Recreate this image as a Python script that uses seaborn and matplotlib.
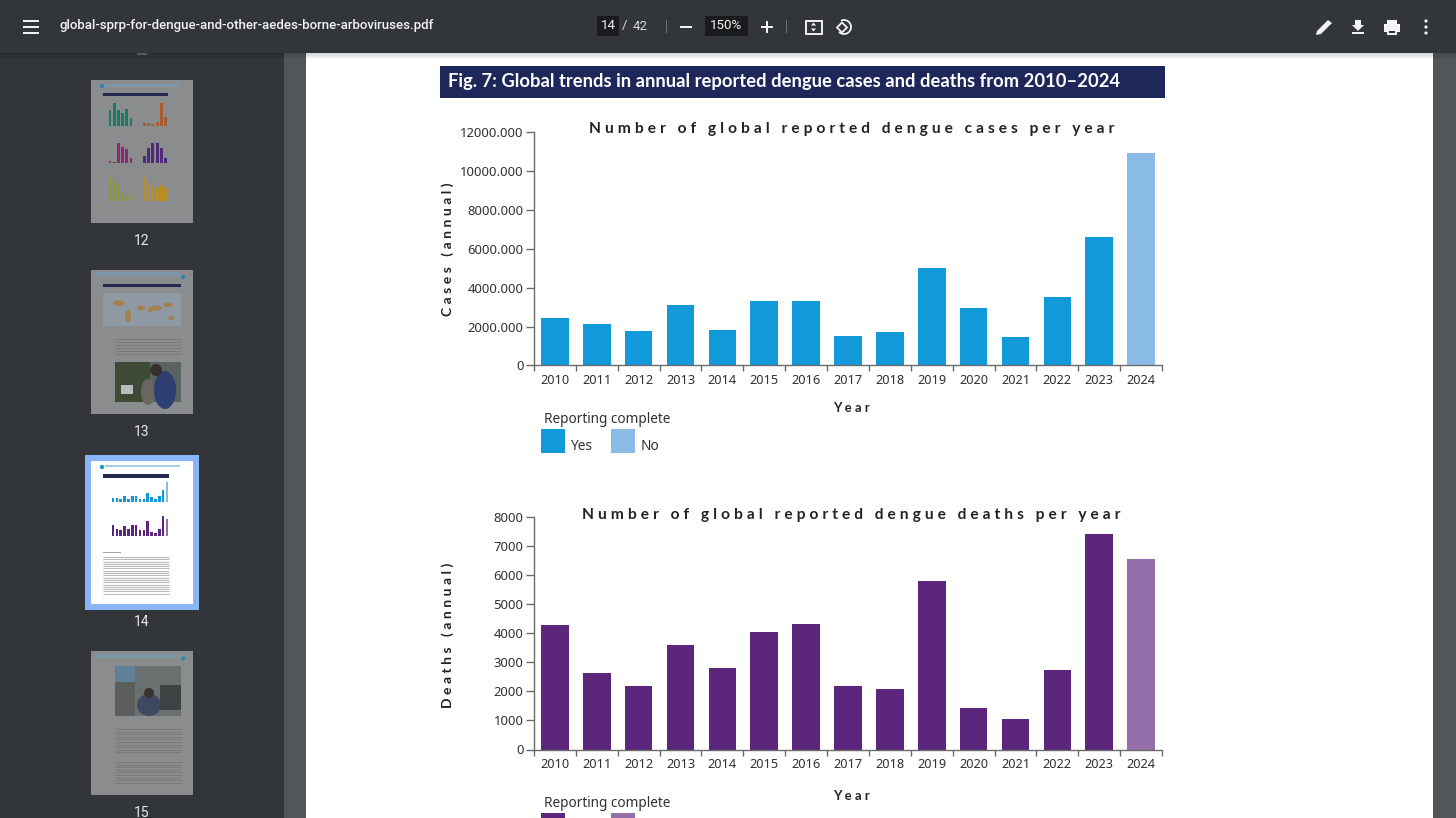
import numpy as np
import pandas as pd
import seaborn as sns
import matplotlib.pyplot as plt
from matplotlib.patches import Rectangle, Ellipse, Polygon, Circle

# -------------------------------
# Data
# -------------------------------
years = [2010, 2011, 2012, 2013, 2014, 2015, 2016, 2017, 2018, 2019, 2020, 2021, 2022, 2023, 2024]
cases = [2440, 2130, 1750, 3110, 1800, 3315, 3340, 1520, 1720, 5010, 2930, 1490, 3520, 6580, 10920]
deaths = [4285, 2630, 2185, 3595, 2805, 4045, 4335, 2185, 2080, 5815, 1430, 1065, 2735, 7415, 6555]
complete = ["Yes"] * 14 + ["No"]
case_ticks = [0, 2000, 4000, 6000, 8000, 10000, 12000]
case_tick_labels = ["0", "2000.000", "4000.000", "6000.000", "8000.000", "10000.000", "12000.000"]
death_ticks = [0, 1000, 2000, 3000, 4000, 5000, 6000, 7000, 8000]

# thumbnail of page 12, six small charts
thumb_values = [
    [62, 88, 62, 50, 66, 30],
    [12, 12, 10, 16, 100, 42],
    [8, 4, 100, 80, 72, 24],
    [38, 78, 100, 100, 76, 24],
    [100, 88, 74, 36, 20, 30],
    [100, 76, 62, 56, 70, 56],
]
thumb_colors = ["#1d7a62", "#a85c30", "#8a2a72", "#4e2a78", "#8a9a2e", "#b98f22"]
thumb_boxes = [
    (108, 103, 133, 126), (142, 103, 168, 126),
    (108, 143, 133, 163), (142, 143, 168, 163),
    (108, 177, 133, 201), (142, 177, 168, 201),
]

W, H = 1456, 818
INK = "#2f3034"
AXIS = "#6b6b6b"
TOOLBAR = "#323639"
GUTTER = "#525659"
THUMB = "#8b8c8e"

sns.set_theme(style="white")
plt.rcParams["font.family"] = ["Noto Sans", "DejaVu Sans"]
plt.rcParams["patch.force_edgecolor"] = False
plt.rcParams["patch.edgecolor"] = "none"

fig = plt.figure(figsize=(W / 100, H / 100), dpi=100)

# pixel canvas behind the charts, for the viewer around the page
bg = fig.add_axes([0, 0, 1, 1], zorder=0)
bg.set_xlim(0, W)
bg.set_ylim(H, 0)
bg.axis("off")


def rect(x0, y0, x1, y1, color, z=1, **kw):
    bg.add_patch(Rectangle((x0, y0), x1 - x0, y1 - y0, facecolor=color, edgecolor="none", zorder=z, **kw))


def ptext(x, y, s, size, color=INK, ha="center", weight="normal", family=None, rotation=0):
    fam = family if family else ["Noto Sans", "DejaVu Sans"]
    bg.text(x, y, s, fontsize=size, color=color, ha=ha, va="center", weight=weight,
            family=fam, rotation=rotation, zorder=6)


def spaced(s):
    # letter spacing of the chart titles
    return "\u2009\u2009".join(s)


def text_lines(x0, x1, y0, y1, step, color="#6c6d70", alpha=0.55):
    for y in np.arange(y0, y1, step):
        bg.plot([x0, x1], [y, y], color=color, lw=0.8, alpha=alpha, zorder=3, solid_capstyle="butt")


# viewer panels
rect(0, 0, W, H, GUTTER, z=0)
rect(0, 53, 284, H, TOOLBAR)
rect(306, 53, 1433, H, "white")
for i in range(6):
    rect(0, 53 + i, W, 54 + i, "#000000", z=1.5, alpha=0.16 - i * 0.025)
rect(0, 0, W, 53, TOOLBAR, z=2)

# toolbar, left part
for y in (21, 27, 33):
    rect(23, y - 1, 39, y + 1, "#f1f3f4", z=3)
ptext(60, 25.5, "global-sprp-for-dengue-and-other-aedes-borne-arboviruses.pdf", 9.5,
      color="#f1f3f4", ha="left", family="Roboto", weight="medium")

# toolbar, page and zoom fields
rect(597, 16, 619, 36, "#191b1c", z=3)
ptext(608, 25.5, "14", 9.6, color="#f1f3f4", family="Roboto")
ptext(625, 26, "/", 9.6, color="#d5d7d9", family="Roboto")
ptext(640, 26, "42", 9.6, color="#d5d7d9", family="Roboto")
rect(666, 20, 667, 33, "#6d7174", z=3)
rect(680, 26, 692, 28, "#f1f3f4", z=3)
rect(705, 16, 748, 36, "#191b1c", z=3)
ptext(726.5, 25.5, "150%", 9.6, color="#f1f3f4", family="Roboto")
rect(761, 26, 773, 28, "#f1f3f4", z=3)
rect(766, 21, 768, 33, "#f1f3f4", z=3)
rect(786, 20, 787, 33, "#6d7174", z=3)

# fit-to-page and rotate icons
bg.add_patch(Rectangle((805.5, 20.5), 16, 13, fill=False, edgecolor="#f1f3f4", lw=1.4, zorder=3))
bg.add_patch(Polygon([(813.5, 22.5), (811, 25.5), (816, 25.5)], facecolor="#f1f3f4", zorder=3))
bg.add_patch(Polygon([(813.5, 31.5), (811, 28.5), (816, 28.5)], facecolor="#f1f3f4", zorder=3))
bg.add_patch(Polygon([(842, 22.5), (847, 27.5), (842, 32.5), (837, 27.5)], fill=False,
                     edgecolor="#f1f3f4", lw=1.3, zorder=3))
theta = np.radians(np.linspace(-110, 130, 30))
bg.plot(844 + 7 * np.cos(theta), 27 + 7 * np.sin(theta), color="#f1f3f4", lw=1.3, zorder=3)

# edit, download, print and menu icons
bg.add_patch(Polygon([(1316, 35), (1317, 31), (1328, 20), (1332, 23), (1321, 34)], facecolor="#f1f3f4", zorder=3))
rect(1352, 32, 1364, 34, "#f1f3f4", z=3)
rect(1355, 20, 1361, 25, "#f1f3f4", z=3)
bg.add_patch(Polygon([(1352, 25), (1364, 25), (1358, 31)], facecolor="#f1f3f4", zorder=3))
rect(1384, 24, 1400, 32, "#f1f3f4", z=3)
rect(1387, 20, 1397, 24, "#f1f3f4", z=3)
rect(1387, 30, 1397, 35, "#f1f3f4", z=3)
rect(1389, 31, 1395, 33, TOOLBAR, z=3.5)
for y in (21, 27, 33):
    bg.add_patch(Circle((1426, y), 1.6, facecolor="#f1f3f4", zorder=3))

# sidebar thumbnails
rect(137, 53, 147, 55, "#9a9c9e", z=1.2, alpha=0.5)
rect(91, 80, 193, 223, THUMB, z=2)
rect(91, 270, 193, 414, THUMB, z=2)
rect(85, 455, 199, 610, "#8ab4f8", z=2)
rect(91, 461, 193, 604, "white", z=2.2)
rect(91, 651, 193, 795, THUMB, z=2)
for label, y in (("12", 241), ("13", 431.5), ("14", 622), ("15", 813)):
    ptext(142, y, label, 10, color="#e8eaed", family="Roboto")

# page 12 header
rect(103, 93, 168, 96, "#25284f", z=3)
rect(105, 84, 180, 87, "#7d97a8", z=3)
bg.add_patch(Circle((102, 86), 2.2, facecolor="#2a8ab0", zorder=3))

# page 13 content
rect(103, 284, 181, 287, "#25284f", z=3)
rect(103, 293, 181, 326, "#8e99a3", z=3)
for cx, cy, ex, ey in [(119, 303, 12, 6), (128, 316, 6, 12), (141, 308, 8, 5), (156, 308, 12, 5),
                       (168, 305, 10, 4), (171, 318, 6, 4), (150, 310, 5, 5)]:
    bg.add_patch(Ellipse((cx, cy), ex, ey, facecolor="#a4814c", zorder=3.2))
text_lines(115, 181, 339, 357, 3)
rect(115, 362, 181, 402, "#3c4a36", z=3)
rect(150, 362, 181, 402, "#59635f", z=3.1)
bg.add_patch(Ellipse((165, 390), 22, 38, facecolor="#2f3f72", zorder=3.3))
bg.add_patch(Ellipse((148, 392), 14, 26, facecolor="#6a6660", zorder=3.2))
bg.add_patch(Circle((156, 370), 6, facecolor="#38302c", zorder=3.4))
rect(121, 385, 133, 394, "#b8bcc0", z=3.4)
rect(95, 272, 180, 276, "#7d97a8", z=3)
bg.add_patch(Circle((183, 277), 2.2, facecolor="#2a8ab0", zorder=3))

# page 14 content
rect(103, 474, 169, 478, "#25284f", z=3)
rect(105, 465, 180, 467, "#a8cde2", z=3)
bg.add_patch(Circle((102, 467), 2.2, facecolor="#1a9bd7", zorder=3))
text_lines(103, 169, 557, 594, 2.3, color="#8a8c90", alpha=0.6)
rect(103, 552, 121, 553, "#a2a4a8", z=3)

# page 15 content
rect(115, 666, 181, 716, "#6a6f70", z=3)
rect(115, 666, 135, 682, "#5f8096", z=3.1)
rect(115, 682, 135, 716, "#5c5e5c", z=3.1)
rect(160, 685, 181, 710, "#3d4242", z=3.1)
bg.add_patch(Ellipse((149, 705), 24, 22, facecolor="#3e4860", zorder=3.3))
bg.add_patch(Circle((149, 693), 5, facecolor="#3a322c", zorder=3.4))
text_lines(115, 181, 729, 754, 2.6)
text_lines(115, 181, 762, 783, 2.6)
rect(95, 654, 180, 658, "#7d97a8", z=3)
bg.add_patch(Circle((183, 658.5), 2.2, facecolor="#2a8ab0", zorder=3))


def px_axes(x0, y0, x1, y1, z=5):
    return fig.add_axes([x0 / W, 1 - y1 / H, (x1 - x0) / W, (y1 - y0) / H], zorder=z)


def mini_bars(box, values, palette, hue=None):
    mini = px_axes(*box)
    sns.barplot(x=list(range(len(values))), y=values, hue=hue if hue else None,
                palette=palette if hue else None, color=None if hue else palette,
                dodge=False, width=0.66, saturation=1, linewidth=0, legend=False, ax=mini)
    mini.set_xlim(-0.5, len(values) - 0.5)
    mini.set_ylim(0, max(values) * 1.02)
    mini.axis("off")
    mini.patch.set_alpha(0)


for box, values, color in zip(thumb_boxes, thumb_values, thumb_colors):
    mini_bars(box, values, color)
mini_bars((111, 482, 169, 502), cases, {"Yes": "#1199d9", "No": "#8abae6"}, complete)
mini_bars((111, 516, 169, 536), deaths, {"Yes": "#5b267c", "No": "#9470aa"}, complete)

# -------------------------------
# Figure banner
# -------------------------------
rect(440, 66, 1165, 98, "#1e2759", z=3)
ptext(448, 82, "Fig. 7: Global trends in annual reported dengue cases and deaths from 2010\u20132024", 13.2,
      color="white", ha="left", weight="bold", family="Lato")


# -------------------------------
# Charts
# -------------------------------
def draw_chart(box, values, column, palette, ticks, tick_labels, ymax, legend_y, show_labels=True):
    ax = px_axes(*box, z=5)
    df = pd.DataFrame({"Year": years, column: values, "Reporting complete": complete})
    sns.barplot(data=df, x="Year", y=column, hue="Reporting complete", palette=palette,
                hue_order=["Yes", "No"], dodge=False, width=0.66, saturation=1, linewidth=0, ax=ax)
    ax.set_xlim(-0.5, 14.5)
    ax.set_ylim(0, ymax)
    ax.patch.set_alpha(0)
    ax.set_xlabel("")
    ax.set_ylabel("")

    # ticks sit between the bars, labels under the bars
    ax.set_xticks(np.arange(-0.5, 15, 1))
    ax.set_xticklabels([])
    ax.set_xticks(np.arange(15), minor=True)
    ax.set_xticklabels([str(y) for y in years], minor=True)
    ax.tick_params(axis="x", which="major", length=4.5, width=1, color=AXIS, bottom=True)
    ax.tick_params(axis="x", which="minor", length=0, labelsize=9.2, labelcolor=INK, pad=6)
    ax.set_yticks(ticks)
    ax.set_yticklabels(tick_labels)
    ax.tick_params(axis="y", length=6, width=1, color=AXIS, labelsize=9.4, labelcolor=INK, pad=1.5, left=True)

    sns.despine(ax=ax)
    for side in ("left", "bottom"):
        ax.spines[side].set_color(AXIS)
        ax.spines[side].set_linewidth(1)

    # reporting legend under the axis
    handles, labels = ax.get_legend_handles_labels()
    leg = ax.legend(handles, labels, title="Reporting complete", ncol=2, frameon=False,
                    loc="upper left", bbox_to_anchor=(537.5 / W, 1 - legend_y / H),
                    bbox_transform=fig.transFigure, fontsize=9.8, title_fontsize=9.8,
                    handlelength=1.76, handleheight=2.3, handletextpad=0.45, columnspacing=1.3,
                    borderpad=0.25, borderaxespad=0, labelspacing=0)
    leg._legend_box.align = "left"
    leg.get_title().set_color(INK)
    leg.get_title().set_position((3, 2))
    for t in leg.get_texts():
        t.set_color(INK)
        t.set_y(-5)
        # the lower legend's labels fall below the fold of the page view
        t.set_visible(show_labels)
    return ax


draw_chart((534, 132, 1162, 365.5), cases, "Cases", {"Yes": "#1199d9", "No": "#8abae6"},
           case_ticks, case_tick_labels, 12000, 411)
draw_chart((534, 517, 1162, 749.5), deaths, "Deaths", {"Yes": "#5b267c", "No": "#9470aa"},
           death_ticks, [str(t) for t in death_ticks], 8000, 795, show_labels=False)

# overlaid chart titles and axis names, on the pixel canvas
bg.set_zorder(0)
top = fig.add_axes([0, 0, 1, 1], zorder=8)
top.set_xlim(0, W)
top.set_ylim(H, 0)
top.axis("off")
for x, y, s, size, rot in [
    (852, 129, "Number of global reported dengue cases per year", 11.2, 0),
    (851.5, 515, "Number of global reported dengue deaths per year", 11.2, 0),
    (851.5, 408, "Year", 9.4, 0),
    (851.5, 796, "Year", 9.4, 0),
    (448, 249, "Cases (annual)", 10, 90),
    (448, 635, "Deaths (annual)", 10, 90),
]:
    top.text(x, y, spaced(s), fontsize=size, color="#222327", weight="bold", ha="center", va="center",
             rotation=rot, family=["Lato", "DejaVu Sans"])

plt.savefig("out.png", dpi=100)
plt.close()
